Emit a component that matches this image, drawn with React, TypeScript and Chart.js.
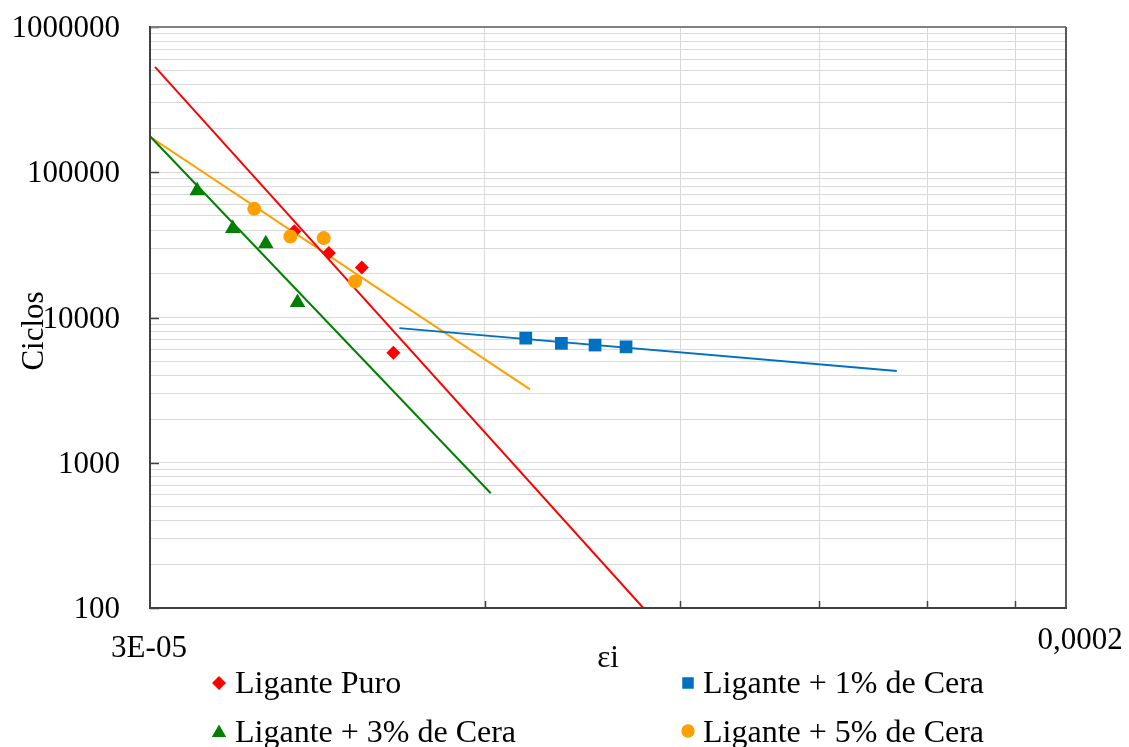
import React, { useEffect, useRef } from 'react';
import { Chart, registerables } from 'chart.js';

Chart.register(...registerables);

// ---------- data ----------
const seriesNames = [
  'Ligante Puro',
  'Ligante + 1% de Cera',
  'Ligante + 3% de Cera',
  'Ligante + 5% de Cera',
];

const puroStrain = [4.045e-5, 4.345e-5, 4.652e-5, 4.966e-5];
const puroCycles = [39300, 27750, 22050, 5710];

const cera1Strain = [6.533e-5, 7.033e-5, 7.541e-5, 8.041e-5];
const cera1Cycles = [7210, 6640, 6460, 6280];

const cera3Strain = [3.308e-5, 3.561e-5, 3.813e-5, 4.072e-5];
const cera3Cycles = [74500, 41000, 32150, 12700];

const cera5Strain = [3.723e-5, 4.012e-5, 4.299e-5, 4.587e-5];
const cera5Cycles = [55980, 36140, 35200, 17720];

// trend line end points
const puroTrendStrain = [3.031e-5, 8.334e-5];
const puroTrendCycles = [531500, 100];
const cera1TrendStrain = [5.028e-5, 1.4088e-4];
const cera1TrendCycles = [8450, 4280];
const cera3TrendStrain = [3.0e-5, 6.076e-5];
const cera3TrendCycles = [177000, 616];
const cera5TrendStrain = [3.0e-5, 6.591e-5];
const cera5TrendCycles = [175300, 3200];

// axes
const xMin = 3e-5;
const xMax = 2e-4;
const xGridValues = [6e-5, 9e-5, 1.2e-4, 1.5e-4, 1.8e-4];
const xTickValues = [3e-5, 2e-4];
const xTickLabels = ['3E-05', '0,0002'];
const xTitle = 'εi';

const yMin = 100;
const yMax = 1000000;
const yMajorValues = [100, 1000, 10000, 100000, 1000000];
const yTickLabels = ['100', '1000', '10000', '100000', '1000000'];
const yMinorMultipliers = [2, 3, 4, 5, 6, 7, 8, 9];
const yTitle = 'Ciclos';

// ---------- styling ----------
const RED = '#ff0000';
const BLUE = '#0070c0';
const GREEN = '#008000';
const ORANGE = '#ffa000';
const FONT = '"Liberation Serif", "Times New Roman", serif';

const toPts = (xs: number[], ys: number[]) => xs.map((x, i) => ({ x, y: ys[i] }));

function drawMarker(ctx: CanvasRenderingContext2D, kind: string, x: number, y: number, color: string) {
  ctx.fillStyle = color;
  ctx.beginPath();
  if (kind === 'diamond') {
    const r = 7;
    ctx.moveTo(x, y - r);
    ctx.lineTo(x + r, y);
    ctx.lineTo(x, y + r);
    ctx.lineTo(x - r, y);
    ctx.closePath();
  } else if (kind === 'square') {
    const s = 11.5;
    ctx.rect(x - s / 2, y - s / 2, s, s);
  } else if (kind === 'triangle') {
    ctx.moveTo(x, y - 6.5);
    ctx.lineTo(x + 7.2, y + 6);
    ctx.lineTo(x - 7.2, y + 6);
    ctx.closePath();
  } else {
    ctx.arc(x, y, 6.7, 0, Math.PI * 2);
  }
  ctx.fill();
}

const decorPlugin = {
  id: 'decor',
  afterDraw(chart: any) {
    const { ctx, chartArea: a } = chart;
    const xs = chart.scales.x;
    const ys = chart.scales.y;
    ctx.save();

    // inward tick marks
    ctx.strokeStyle = '#404040';
    ctx.lineWidth = 1.5;
    yMajorValues.forEach((v) => {
      const py = Math.round(ys.getPixelForValue(v)) + 0.5;
      ctx.beginPath();
      ctx.moveTo(a.left, py);
      ctx.lineTo(a.left + 9, py);
      ctx.stroke();
    });
    xGridValues.forEach((v) => {
      const px = Math.round(xs.getPixelForValue(v)) + 0.5;
      ctx.beginPath();
      ctx.moveTo(px, a.bottom);
      ctx.lineTo(px, a.bottom - 7);
      ctx.stroke();
    });

    // plot border
    ctx.lineWidth = 2;
    ctx.strokeStyle = '#808080';
    ctx.beginPath();
    ctx.moveTo(a.left, a.top);
    ctx.lineTo(a.right, a.top);
    ctx.stroke();
    ctx.strokeStyle = '#595959';
    ctx.beginPath();
    ctx.moveTo(a.right, a.top);
    ctx.lineTo(a.right, a.bottom);
    ctx.stroke();
    ctx.strokeStyle = '#404040';
    ctx.beginPath();
    ctx.moveTo(a.left, a.top - 1);
    ctx.lineTo(a.left, a.bottom);
    ctx.lineTo(a.right + 1, a.bottom);
    ctx.stroke();

    // tick labels
    ctx.fillStyle = '#000';
    ctx.font = `31px ${FONT}`;
    ctx.textBaseline = 'alphabetic';
    ctx.textAlign = 'right';
    yMajorValues.forEach((v, i) => {
      ctx.fillText(yTickLabels[i], a.left - 30, ys.getPixelForValue(v) + 10);
    });
    ctx.textAlign = 'center';
    const xLabelShift = [
      { dx: -1, base: 657 },
      { dx: 14, base: 649 },
    ];
    xTickValues.forEach((v, i) => {
      ctx.fillText(xTickLabels[i], xs.getPixelForValue(v) + xLabelShift[i].dx, xLabelShift[i].base);
    });

    // axis titles
    ctx.fillText(xTitle, 608, 667);
    ctx.save();
    ctx.translate(43, 331);
    ctx.rotate(-Math.PI / 2);
    ctx.textAlign = 'center';
    ctx.fillText(yTitle, 0, 0);
    ctx.restore();

    // legend
    const legendItems = [
      { name: seriesNames[0], kind: 'diamond', color: RED, mx: 219, my: 683, tx: 235, ty: 693 },
      { name: seriesNames[1], kind: 'square', color: BLUE, mx: 688, my: 683, tx: 703, ty: 693 },
      { name: seriesNames[2], kind: 'triangle', color: GREEN, mx: 219, my: 731, tx: 235, ty: 742 },
      { name: seriesNames[3], kind: 'circle', color: ORANGE, mx: 688, my: 731, tx: 703, ty: 742 },
    ];
    ctx.textAlign = 'left';
    ctx.font = `32px ${FONT}`;
    legendItems.forEach((it) => {
      drawMarker(ctx, it.kind, it.mx, it.my, it.color);
      ctx.fillStyle = '#000';
      ctx.fillText(it.name, it.tx, it.ty);
    });

    ctx.restore();
  },
};

export default function App() {
  const canvasRef = useRef<HTMLCanvasElement | null>(null);

  useEffect(() => {
    const canvas = canvasRef.current;
    if (!canvas) return;

    const markerSet = (label: string, data: any[], color: string, style: string, radius: number, order: number) => ({
      label,
      data,
      showLine: false,
      pointStyle: style,
      pointRadius: radius,
      pointHoverRadius: radius,
      pointBackgroundColor: color,
      pointBorderColor: color,
      pointBorderWidth: 0,
      backgroundColor: color,
      borderColor: color,
      order,
    });
    const trendSet = (label: string, data: any[], color: string) => ({
      label,
      data,
      showLine: true,
      pointRadius: 0,
      pointHoverRadius: 0,
      borderColor: color,
      backgroundColor: color,
      borderWidth: 2,
      fill: false,
      tension: 0,
      order: 10,
    });

    const yGridValues: number[] = [];
    yMajorValues.forEach((d) => {
      yGridValues.push(d);
      if (d < yMax) yMinorMultipliers.forEach((m) => yGridValues.push(d * m));
    });

    const chart = new Chart(canvas, {
      type: 'scatter',
      data: {
        datasets: [
          trendSet('trend0', toPts(puroTrendStrain, puroTrendCycles), RED),
          trendSet('trend1', toPts(cera1TrendStrain, cera1TrendCycles), BLUE),
          trendSet('trend2', toPts(cera3TrendStrain, cera3TrendCycles), GREEN),
          trendSet('trend3', toPts(cera5TrendStrain, cera5TrendCycles), ORANGE),
          markerSet(seriesNames[0], toPts(puroStrain, puroCycles), RED, 'rectRot', 7, 4),
          markerSet(seriesNames[1], toPts(cera1Strain, cera1Cycles), BLUE, 'rect', 9, 3),
          markerSet(seriesNames[2], toPts(cera3Strain, cera3Cycles), GREEN, 'triangle', 9, 2),
          markerSet(seriesNames[3], toPts(cera5Strain, cera5Cycles), ORANGE, 'circle', 7, 1),
        ] as any,
      },
      options: {
        responsive: false,
        animation: false,
        devicePixelRatio: 1,
        layout: { padding: { left: 150, top: 27, right: 63, bottom: 139 } },
        plugins: {
          legend: { display: false },
          tooltip: { enabled: false },
          title: { display: false },
        },
        scales: {
          x: {
            type: 'logarithmic',
            min: xMin,
            max: xMax,
            ticks: { display: false },
            border: { display: false },
            grid: { color: '#d9d9d9', lineWidth: 1, drawTicks: false },
            afterBuildTicks: (axis: any) => {
              axis.ticks = xGridValues.map((v) => ({ value: v }));
            },
          },
          y: {
            type: 'logarithmic',
            min: yMin,
            max: yMax,
            ticks: { display: false },
            border: { display: false },
            grid: { color: '#d9d9d9', lineWidth: 1, drawTicks: false },
            afterBuildTicks: (axis: any) => {
              axis.ticks = yGridValues.map((v) => ({ value: v }));
            },
          },
        },
      } as any,
      plugins: [decorPlugin],
    });

    return () => chart.destroy();
  }, []);

  return (
    <div style={{ position: 'absolute', left: 0, top: 0, width: 1129, height: 747, background: '#fff' }}>
      <canvas ref={canvasRef} width={1129} height={747} />
    </div>
  );
}
